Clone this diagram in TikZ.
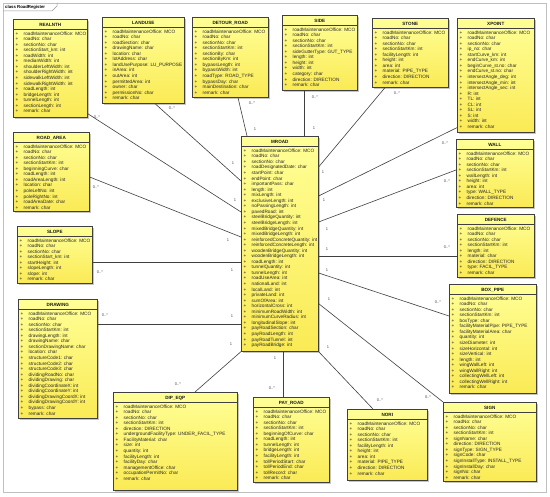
\documentclass[tikz,border=0pt]{standalone}
\usepackage{fontspec}
\setmainfont{Liberation Sans}
\usetikzlibrary{shadows}
\usetikzlibrary{positioning}

\definecolor{clsTop}{RGB}{255,255,150}
\definecolor{clsBottom}{RGB}{250,234,85}

\tikzset{
classbox/.style={draw=black!75,line width=0.6pt,top color=clsTop,bottom color=clsBottom,drop shadow={shadow xshift=1.5pt,shadow yshift=-1.5pt,fill=black!45},anchor=north west,inner sep=0pt},
classtitle/.style={font=\fontsize{4.6}{5.5}\selectfont\bfseries,text=black!90,inner sep=0pt},
classsep/.style={draw=black!75,line width=0.5pt},
attrlist/.style={font=\fontsize{4.7}{5.55}\selectfont,text=black!85,align=left,anchor=north west,inner sep=0pt},
assoc/.style={draw=black!75,line width=0.6pt},
mult/.style={font=\fontsize{4}{4}\selectfont,text=black!70,inner sep=0pt}
}

\begin{document}
\begin{tikzpicture}[x=1pt,y=-1pt]
\useasboundingbox[fill=white] (0,0) rectangle (550,497);
\draw[black!25,line width=0.6pt] (3,3) rectangle (546,492);
\draw[black!40,line width=0.5pt] (3,11) -- (52,11) -- (57,6) -- (57,3);
\node[font=\fontsize{4.3}{5}\selectfont\bfseries,anchor=west,inner sep=0pt] (frame-title) at (5,7) {class RoadRegister};

% REALNTH
\node[classbox,minimum width=74pt,minimum height=98pt] (realnth) at (13,19) {};
\node[classtitle] (realnth-t) at ([yshift=-6pt]realnth.north) {REALNTH};
\draw[classsep] ([yshift=-10.5pt]realnth.north west) -- ([yshift=-10.5pt]realnth.north east);
\node[attrlist] (realnth-a) at ([xshift=2.5pt,yshift=-12.5pt]realnth.north west) {+\hspace{5.3pt}roadMaintenanceOffice: MCO\\+\hspace{5.3pt}roadNo: char\\+\hspace{5.3pt}sectionNo: char\\+\hspace{5.3pt}sectionStart\_km: int\\+\hspace{5.3pt}roadWidth: int\\+\hspace{5.3pt}medianWidth: int\\+\hspace{5.3pt}shoulderLeftWidth: int\\+\hspace{5.3pt}shoulderRightWidth: int\\+\hspace{5.3pt}sidewalkLeftWidth: int\\+\hspace{5.3pt}sidewalkRightWidth: int\\+\hspace{5.3pt}roadLength: int\\+\hspace{5.3pt}bridgeLength: int\\+\hspace{5.3pt}tunnelLength: int\\+\hspace{5.3pt}sectionLength: int\\+\hspace{5.3pt}remark: char};

% LANDUSE
\node[classbox,minimum width=82pt,minimum height=86pt] (landuse) at (102,17) {};
\node[classtitle] (landuse-t) at ([yshift=-6pt]landuse.north) {LANDUSE};
\draw[classsep] ([yshift=-10.5pt]landuse.north west) -- ([yshift=-10.5pt]landuse.north east);
\node[attrlist] (landuse-a) at ([xshift=2.5pt,yshift=-12.5pt]landuse.north west) {+\hspace{5.3pt}roadMaintenanceOffice: MCO\\+\hspace{5.3pt}roadNo: char\\+\hspace{5.3pt}roadSection: char\\+\hspace{5.3pt}drawingName: char\\+\hspace{5.3pt}location: char\\+\hspace{5.3pt}lotAddress: char\\+\hspace{5.3pt}landUsePurpose: LU\_PURPOSE\\+\hspace{5.3pt}inArea: int\\+\hspace{5.3pt}outArea: int\\+\hspace{5.3pt}permittedArea: int\\+\hspace{5.3pt}owner: char\\+\hspace{5.3pt}permissionNo: char\\+\hspace{5.3pt}remark: char};

% DETOUR_ROAD
\node[classbox,minimum width=76pt,minimum height=80pt] (detour) at (192,17) {};
\node[classtitle] (detour-t) at ([yshift=-6pt]detour.north) {DETOUR\_ROAD};
\draw[classsep] ([yshift=-10.5pt]detour.north west) -- ([yshift=-10.5pt]detour.north east);
\node[attrlist] (detour-a) at ([xshift=2.5pt,yshift=-12.5pt]detour.north west) {+\hspace{5.3pt}roadMaintenanceOffice: MCO\\+\hspace{5.3pt}roadNo: char\\+\hspace{5.3pt}sectionNo: char\\+\hspace{5.3pt}sectionStartKm: int\\+\hspace{5.3pt}sectionBy: char\\+\hspace{5.3pt}sectionByKm: int\\+\hspace{5.3pt}bypassLength: int\\+\hspace{5.3pt}bypassWidth: int\\+\hspace{5.3pt}roadType: ROAD\_TYPE\\+\hspace{5.3pt}bypassDay: char\\+\hspace{5.3pt}mainDestination: char\\+\hspace{5.3pt}remark: char};

% SIDE
\node[classbox,minimum width=75pt,minimum height=75pt] (side) at (282,15) {};
\node[classtitle] (side-t) at ([yshift=-6pt]side.north) {SIDE};
\draw[classsep] ([yshift=-10.5pt]side.north west) -- ([yshift=-10.5pt]side.north east);
\node[attrlist] (side-a) at ([xshift=2.5pt,yshift=-12.5pt]side.north west) {+\hspace{5.3pt}roadMaintenanceOffice: MCO\\+\hspace{5.3pt}roadNo: char\\+\hspace{5.3pt}sectionNo: char\\+\hspace{5.3pt}sectionStartKm: int\\+\hspace{5.3pt}sideGutterType: GUT\_TYPE\\+\hspace{5.3pt}length: int\\+\hspace{5.3pt}height: int\\+\hspace{5.3pt}width: int\\+\hspace{5.3pt}category: char\\+\hspace{5.3pt}direction: DIRECTION\\+\hspace{5.3pt}remark: char};

% STONE
\node[classbox,minimum width=76pt,minimum height=69pt] (stone) at (372,18) {};
\node[classtitle] (stone-t) at ([yshift=-6pt]stone.north) {STONE};
\draw[classsep] ([yshift=-10.5pt]stone.north west) -- ([yshift=-10.5pt]stone.north east);
\node[attrlist] (stone-a) at ([xshift=2.5pt,yshift=-12.5pt]stone.north west) {+\hspace{5.3pt}roadMaintenanceOffice: MCO\\+\hspace{5.3pt}roadNo: char\\+\hspace{5.3pt}sectionNo: char\\+\hspace{5.3pt}sectionStartKm: int\\+\hspace{5.3pt}facilityLength: int\\+\hspace{5.3pt}height: int\\+\hspace{5.3pt}area: int\\+\hspace{5.3pt}material: PIPE\_TYPE\\+\hspace{5.3pt}direction: DIRECTION\\+\hspace{5.3pt}remark: char};

% XPOINT
\node[classbox,minimum width=77pt,minimum height=114pt] (xpoint) at (457,18) {};
\node[classtitle] (xpoint-t) at ([yshift=-6pt]xpoint.north) {XPOINT};
\draw[classsep] ([yshift=-10.5pt]xpoint.north west) -- ([yshift=-10.5pt]xpoint.north east);
\node[attrlist] (xpoint-a) at ([xshift=2.5pt,yshift=-12.5pt]xpoint.north west) {+\hspace{5.3pt}roadMaintenanceOffice: MCO\\+\hspace{5.3pt}roadNo: char\\+\hspace{5.3pt}sectionNo: char\\+\hspace{5.3pt}ip\_no: char\\+\hspace{5.3pt}startCurve\_km: int\\+\hspace{5.3pt}endCurve\_km: int\\+\hspace{5.3pt}beginCurve\_st.no: char\\+\hspace{5.3pt}endCurve\_st.no: char\\+\hspace{5.3pt}intersectAngle\_deg: int\\+\hspace{5.3pt}intersectAngle\_min: int\\+\hspace{5.3pt}intersectAngle\_sec: int\\+\hspace{5.3pt}R: int\\+\hspace{5.3pt}TL: int\\+\hspace{5.3pt}CL: int\\+\hspace{5.3pt}SL: int\\+\hspace{5.3pt}S: int\\+\hspace{5.3pt}width: int\\+\hspace{5.3pt}remark: char};

% ROAD_AREA
\node[classbox,minimum width=76pt,minimum height=79pt] (roadarea) at (13,132) {};
\node[classtitle] (roadarea-t) at ([yshift=-6pt]roadarea.north) {ROAD\_AREA};
\draw[classsep] ([yshift=-10.5pt]roadarea.north west) -- ([yshift=-10.5pt]roadarea.north east);
\node[attrlist] (roadarea-a) at ([xshift=2.5pt,yshift=-12.5pt]roadarea.north west) {+\hspace{5.3pt}roadMaintenanceOffice: MCO\\+\hspace{5.3pt}roadNo: char\\+\hspace{5.3pt}sectionNo: char\\+\hspace{5.3pt}sectionStartKm: int\\+\hspace{5.3pt}beginningCurve: char\\+\hspace{5.3pt}roadLength: int\\+\hspace{5.3pt}roadAreaLength: int\\+\hspace{5.3pt}location: char\\+\hspace{5.3pt}poleLeftNo: int\\+\hspace{5.3pt}poleRightNo: int\\+\hspace{5.3pt}roadAreaDate: char\\+\hspace{5.3pt}remark: char};

% SLOPE
\node[classbox,minimum width=75pt,minimum height=57pt] (slope) at (17,226) {};
\node[classtitle] (slope-t) at ([yshift=-6pt]slope.north) {SLOPE};
\draw[classsep] ([yshift=-10.5pt]slope.north west) -- ([yshift=-10.5pt]slope.north east);
\node[attrlist] (slope-a) at ([xshift=2.5pt,yshift=-12.5pt]slope.north west) {+\hspace{5.3pt}roadMaintenanceOffice: MCO\\+\hspace{5.3pt}roadNo: char\\+\hspace{5.3pt}sectionNo: char\\+\hspace{5.3pt}sectionStart\_km: int\\+\hspace{5.3pt}startHeight: int\\+\hspace{5.3pt}slopeLength: int\\+\hspace{5.3pt}slope: int\\+\hspace{5.3pt}remark: char};

% MROAD
\node[classbox,minimum width=77pt,minimum height=215pt] (mroad) at (241,136) {};
\node[classtitle] (mroad-t) at ([yshift=-6pt]mroad.north) {MROAD};
\draw[classsep] ([yshift=-10.5pt]mroad.north west) -- ([yshift=-10.5pt]mroad.north east);
\node[attrlist] (mroad-a) at ([xshift=2.5pt,yshift=-12.7pt]mroad.north west) {+\hspace{5.3pt}roadMaintenanceOffice: MCO\\+\hspace{5.3pt}roadNo: char\\+\hspace{5.3pt}sectionNo: char\\+\hspace{5.3pt}roadDesignatedDate: char\\+\hspace{5.3pt}startPoint: char\\+\hspace{5.3pt}endPoint: char\\+\hspace{5.3pt}importantPass: char\\+\hspace{5.3pt}length: int\\+\hspace{5.3pt}mixLength: int\\+\hspace{5.3pt}exclusiveLength: int\\+\hspace{5.3pt}noPassingLength: int\\+\hspace{5.3pt}pavedRoad: int\\+\hspace{5.3pt}steelBridgeQuantity: int\\+\hspace{5.3pt}steelBridgeLength: int\\+\hspace{5.3pt}mixedBridgeQuantity: int\\+\hspace{5.3pt}mixedBridgeLength: int\\+\hspace{5.3pt}reinforcedConcreteQuantity: int\\+\hspace{5.3pt}reinforcedConcreteLength: int\\+\hspace{5.3pt}woodenBridgeQuantity: int\\+\hspace{5.3pt}woodenBridgeLength: int\\+\hspace{5.3pt}roadLength: int\\+\hspace{5.3pt}tunnelQuantity: int\\+\hspace{5.3pt}tunnelLength: int\\+\hspace{5.3pt}roadUseArea: int\\+\hspace{5.3pt}nationalLand: int\\+\hspace{5.3pt}localLand: int\\+\hspace{5.3pt}privateLand: int\\+\hspace{5.3pt}sumOfArea: int\\+\hspace{5.3pt}horizontalCross: int\\+\hspace{5.3pt}minimumRoadWidth: int\\+\hspace{5.3pt}minimumCurveRadius: int\\+\hspace{5.3pt}longitudinalSlope: int\\+\hspace{5.3pt}payRoadSection: char\\+\hspace{5.3pt}payRoadLength: int\\+\hspace{5.3pt}payRoadTunnel: int\\+\hspace{5.3pt}payRoadBridge: int};

% WALL
\node[classbox,minimum width=77pt,minimum height=68pt] (wall) at (456,139) {};
\node[classtitle] (wall-t) at ([yshift=-6pt]wall.north) {WALL};
\draw[classsep] ([yshift=-10.5pt]wall.north west) -- ([yshift=-10.5pt]wall.north east);
\node[attrlist] (wall-a) at ([xshift=2.5pt,yshift=-12.5pt]wall.north west) {+\hspace{5.3pt}roadMaintenanceOffice: MCO\\+\hspace{5.3pt}roadNo: char\\+\hspace{5.3pt}sectionNo: char\\+\hspace{5.3pt}sectionStartKm: int\\+\hspace{5.3pt}wallLength: int\\+\hspace{5.3pt}height: int\\+\hspace{5.3pt}area: int\\+\hspace{5.3pt}type: WALL\_TYPE\\+\hspace{5.3pt}direction: DIRECTION\\+\hspace{5.3pt}remark: char};

% DEFENCE
\node[classbox,minimum width=77pt,minimum height=63pt] (defence) at (457,214) {};
\node[classtitle] (defence-t) at ([yshift=-6pt]defence.north) {DEFENCE};
\draw[classsep] ([yshift=-10.5pt]defence.north west) -- ([yshift=-10.5pt]defence.north east);
\node[attrlist] (defence-a) at ([xshift=2.5pt,yshift=-12.5pt]defence.north west) {+\hspace{5.3pt}roadMaintenanceOffice: MCO\\+\hspace{5.3pt}roadNo: char\\+\hspace{5.3pt}sectionNo: char\\+\hspace{5.3pt}sectionStartKm: int\\+\hspace{5.3pt}length: int\\+\hspace{5.3pt}material: char\\+\hspace{5.3pt}direction: DIRECTION\\+\hspace{5.3pt}type: FACIL\_TYPE\\+\hspace{5.3pt}remark: char};

% BOX_PIPE
\node[classbox,minimum width=87pt,minimum height=109pt] (boxpipe) at (449,284) {};
\node[classtitle] (boxpipe-t) at ([yshift=-6pt]boxpipe.north) {BOX\_PIPE};
\draw[classsep] ([yshift=-10.5pt]boxpipe.north west) -- ([yshift=-10.5pt]boxpipe.north east);
\node[attrlist] (boxpipe-a) at ([xshift=2.5pt,yshift=-12.5pt]boxpipe.north west) {+\hspace{5.3pt}roadMaintenanceOffice: MCO\\+\hspace{5.3pt}roadNo: char\\+\hspace{5.3pt}sectionNo: char\\+\hspace{5.3pt}sectionStartKm: int\\+\hspace{5.3pt}boxType: char\\+\hspace{5.3pt}facilityMaterialPipe: PIPE\_TYPE\\+\hspace{5.3pt}facilityMaterialArea: char\\+\hspace{5.3pt}quantity: int\\+\hspace{5.3pt}sizeDiameter: int\\+\hspace{5.3pt}sizeHorizontal: int\\+\hspace{5.3pt}sizeVertical: int\\+\hspace{5.3pt}length: int\\+\hspace{5.3pt}wingWallLeft: int\\+\hspace{5.3pt}wingWallRight: int\\+\hspace{5.3pt}collectingWellLeft: int\\+\hspace{5.3pt}collectingWellRight: int\\+\hspace{5.3pt}remark: char};

% DRAWING
\node[classbox,minimum width=79pt,minimum height=119pt] (drawing) at (18,299) {};
\node[classtitle] (drawing-t) at ([yshift=-6pt]drawing.north) {DRAWING};
\draw[classsep] ([yshift=-10.5pt]drawing.north west) -- ([yshift=-10.5pt]drawing.north east);
\node[attrlist] (drawing-a) at ([xshift=2.5pt,yshift=-12.5pt]drawing.north west) {+\hspace{5.3pt}roadMaintenanceOffice: MCO\\+\hspace{5.3pt}roadNo: char\\+\hspace{5.3pt}sectionNo: char\\+\hspace{5.3pt}sectionStartKm: int\\+\hspace{5.3pt}drawingLength: int\\+\hspace{5.3pt}drawingName: char\\+\hspace{5.3pt}sectionDrawingName: char\\+\hspace{5.3pt}location: char\\+\hspace{5.3pt}structureCode1: char\\+\hspace{5.3pt}structureCode2: char\\+\hspace{5.3pt}structureCode3: char\\+\hspace{5.3pt}dividingRoadNo: char\\+\hspace{5.3pt}dividingDrawing: char\\+\hspace{5.3pt}dividingCoordinateX: int\\+\hspace{5.3pt}dividingCoordinateY: int\\+\hspace{5.3pt}dividingDrawingCoordX: int\\+\hspace{5.3pt}dividingDrawingCoordY: int\\+\hspace{5.3pt}bypass: char\\+\hspace{5.3pt}remark: char};

% DIP_EQP
\node[classbox,minimum width=124pt,minimum height=98pt] (dipeqp) at (113,392) {};
\node[classtitle] (dipeqp-t) at ([yshift=-6pt]dipeqp.north) {DIP\_EQP};
\draw[classsep] ([yshift=-10.5pt]dipeqp.north west) -- ([yshift=-10.5pt]dipeqp.north east);
\node[attrlist] (dipeqp-a) at ([xshift=2.5pt,yshift=-12.5pt]dipeqp.north west) {+\hspace{5.3pt}roadMaintenanceOffice: MCO\\+\hspace{5.3pt}roadNo: char\\+\hspace{5.3pt}sectionNo: char\\+\hspace{5.3pt}sectionStartKm: int\\+\hspace{5.3pt}direction: DIRECTION\\+\hspace{5.3pt}undergroundFacilityType: UNDER\_FACIL\_TYPE\\+\hspace{5.3pt}FacilityMaterial: char\\+\hspace{5.3pt}size: int\\+\hspace{5.3pt}quantity: int\\+\hspace{5.3pt}facilityLength: int\\+\hspace{5.3pt}facilityDay: char\\+\hspace{5.3pt}managementOffice: char\\+\hspace{5.3pt}occupationPermitNo: char\\+\hspace{5.3pt}remark: char};

% PAY_ROAD
\node[classbox,minimum width=76pt,minimum height=85pt] (payroad) at (253,397) {};
\node[classtitle] (payroad-t) at ([yshift=-6pt]payroad.north) {PAY\_ROAD};
\draw[classsep] ([yshift=-10.5pt]payroad.north west) -- ([yshift=-10.5pt]payroad.north east);
\node[attrlist] (payroad-a) at ([xshift=2.5pt,yshift=-12.5pt]payroad.north west) {+\hspace{5.3pt}roadMaintenanceOffice: MCO\\+\hspace{5.3pt}roadNo: char\\+\hspace{5.3pt}sectionNo: char\\+\hspace{5.3pt}sectionStartKm: int\\+\hspace{5.3pt}beginningOfCurve: char\\+\hspace{5.3pt}roadLength: int\\+\hspace{5.3pt}tunnelLength: int\\+\hspace{5.3pt}bridgeLength: int\\+\hspace{5.3pt}facilityLength: int\\+\hspace{5.3pt}tollPeriodStart: char\\+\hspace{5.3pt}tollPeriodEnd: char\\+\hspace{5.3pt}tollRecord: char\\+\hspace{5.3pt}remark: char};

% NORI
\node[classbox,minimum width=80pt,minimum height=71pt] (nori) at (347,409) {};
\node[classtitle] (nori-t) at ([yshift=-6pt]nori.north) {NORI};
\draw[classsep] ([yshift=-10.5pt]nori.north west) -- ([yshift=-10.5pt]nori.north east);
\node[attrlist] (nori-a) at ([xshift=2.5pt,yshift=-12.5pt]nori.north west) {+\hspace{5.3pt}roadMaintenanceOffice: MCO\\+\hspace{5.3pt}roadNo: char\\+\hspace{5.3pt}sectionNo: char\\+\hspace{5.3pt}sectionStartKm: int\\+\hspace{5.3pt}facilityLength: int\\+\hspace{5.3pt}height: int\\+\hspace{5.3pt}area: int\\+\hspace{5.3pt}material: PIPE\_TYPE\\+\hspace{5.3pt}direction: DIRECTION\\+\hspace{5.3pt}remark: char};

% SIGN
\node[classbox,minimum width=93pt,minimum height=79pt] (sign) at (443,402) {};
\node[classtitle] (sign-t) at ([yshift=-6pt]sign.north) {SIGN};
\draw[classsep] ([yshift=-10.5pt]sign.north west) -- ([yshift=-10.5pt]sign.north east);
\node[attrlist] (sign-a) at ([xshift=2.5pt,yshift=-12.5pt]sign.north west) {+\hspace{5.3pt}roadMaintenanceOffice: MCO\\+\hspace{5.3pt}roadNo: char\\+\hspace{5.3pt}sectionNo: char\\+\hspace{5.3pt}sectionStartKm: int\\+\hspace{5.3pt}signName: char\\+\hspace{5.3pt}direction: DIRECTION\\+\hspace{5.3pt}signType: SIGN\_TYPE\\+\hspace{5.3pt}signCode: char\\+\hspace{5.3pt}signInstallType: INSTALL\_TYPE\\+\hspace{5.3pt}signInstallDay: char\\+\hspace{5.3pt}signNo: char\\+\hspace{5.3pt}remark: char};

% associations
\coordinate (slope-e) at ([yshift=-36pt]slope.north east);
\coordinate (drawing-e) at ([yshift=-25pt]drawing.north east);
\coordinate (payroad-n) at ([xshift=30pt]payroad.north west);
\coordinate (defence-w) at ([yshift=-42pt]defence.north west);
\coordinate (side-s) at ([xshift=22pt]side.south west);

\draw[assoc] ([xshift=53pt]landuse.south west) -- ([yshift=-45pt]mroad.north west);
\draw[assoc] ([yshift=4pt]realnth.south east) -- ([yshift=-76pt]mroad.north west);
\draw[assoc] ([yshift=-45pt]roadarea.north east) -- ([yshift=-101pt]mroad.north west);
\draw[assoc] (slope-e) -- (slope-e -| mroad.west);
\draw[assoc] (drawing-e) -- (drawing-e -| mroad.west);
\draw[assoc] ([xshift=82pt]dipeqp.north west) -- (mroad.south west);
\draw[assoc] (payroad-n |- mroad.south) -- (payroad-n);
\draw[assoc] (mroad.south east) -- ([xshift=26pt]nori.north west);
\draw[assoc] ([yshift=48pt]mroad.south east) -- (sign.north west);
\draw[assoc] ([yshift=-137pt]mroad.north east) -- ([yshift=-32pt]boxpipe.north west);
\draw[assoc] (defence-w -| mroad.east) -- (defence-w);
\draw[assoc] ([yshift=-86pt]mroad.north east) -- ([yshift=-31pt]wall.north west);
\draw[assoc] ([yshift=-60pt]mroad.north east) -- ([yshift=5pt]xpoint.south west);
\draw[assoc] ([xshift=13pt]stone.south west) -- ([yshift=-31pt]mroad.north east);
\draw[assoc] (side-s) -- (side-s |- mroad.north);
\draw[assoc] ([xshift=46pt]detour.south west) -- ([xshift=6pt]mroad.north west);

% multiplicities
\node[mult] (landuse-m) at (172,108) {0..*};
\node[mult] (landuse-o) at (233,163) {1};
\node[mult] (realnth-m) at (97,117) {0..*};
\node[mult] (realnth-o) at (235,200) {1};
\node[mult] (roadarea-m) at (96,187) {0..*};
\node[mult] (roadarea-o) at (228,240) {1};
\node[mult] (slope-m) at (100,272) {0..*};
\node[mult] (slope-o) at (232,270) {1};
\node[mult] (drawing-m) at (105,315) {0..*};
\node[mult] (drawing-o) at (232,316) {1};
\node[mult] (dipeqp-m) at (178,384) {0..*};
\node[mult] (dipeqp-o) at (231,344) {1};
\node[mult] (payroad-o) at (275,358) {1};
\node[mult] (payroad-m) at (272,388) {0..*};
\node[mult] (nori-o) at (328,347) {1};
\node[mult] (nori-m) at (380,400) {0..*};
\node[mult] (sign-o) at (329,299) {1};
\node[mult] (sign-m) at (428,397) {0..*};
\node[mult] (boxpipe-o) at (327,270) {1};
\node[mult] (boxpipe-m) at (438,302) {0..*};
\node[mult] (defence-o) at (327,249) {1};
\node[mult] (defence-m) at (447,247) {0..*};
\node[mult] (wall-o) at (327,229) {1};
\node[mult] (wall-m) at (447,181) {0..*};
\node[mult] (xpoint-o) at (324,200) {1};
\node[mult] (xpoint-m) at (445,143) {0..*};
\node[mult] (stone-o) at (323,172) {1};
\node[mult] (stone-m) at (397,93) {0..*};
\node[mult] (side-o) at (314,128) {1};
\node[mult] (side-m) at (315,97) {0..*};
\node[mult] (detour-o) at (255,129) {1};
\node[mult] (detour-m) at (252,103) {0..*};

\end{tikzpicture}
\end{document}
